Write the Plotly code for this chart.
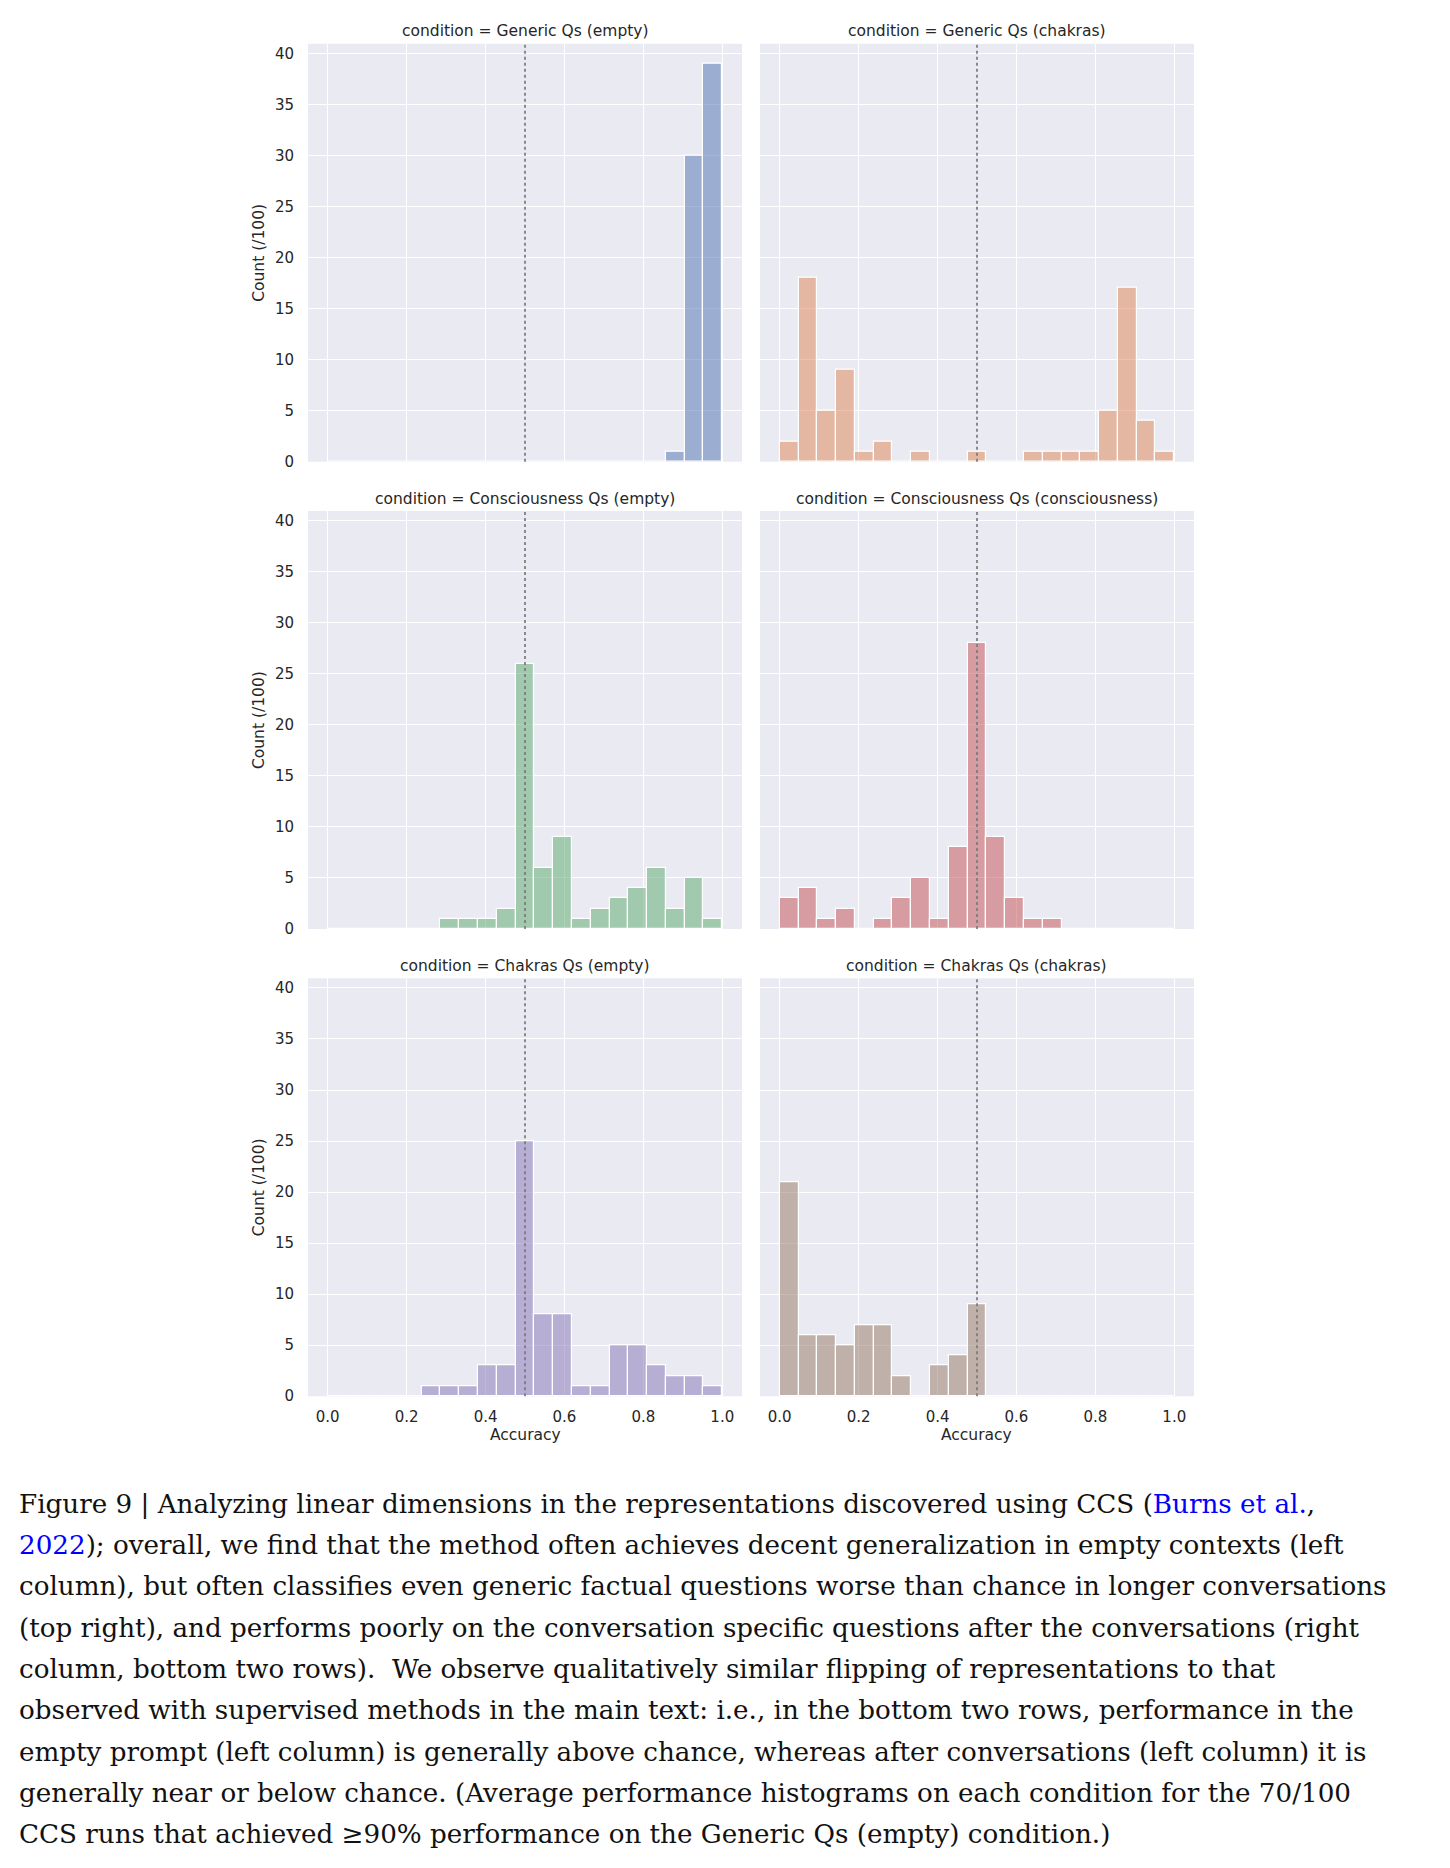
import numpy as np
import plotly.graph_objects as go

# ---------------- data ----------------
n_bins = 21
conditions = [
    "Generic Qs (empty)",
    "Generic Qs (chakras)",
    "Consciousness Qs (empty)",
    "Consciousness Qs (consciousness)",
    "Chakras Qs (empty)",
    "Chakras Qs (chakras)",
]
counts_generic_empty = [0, 0, 0, 0, 0, 0, 0, 0, 0, 0, 0, 0, 0, 0, 0, 0, 0, 0, 1, 30, 39]
counts_generic_chakras = [2, 18, 5, 9, 1, 2, 0, 1, 0, 0, 1, 0, 0, 1, 1, 1, 1, 5, 17, 4, 1]
counts_consc_empty = [0, 0, 0, 0, 0, 0, 1, 1, 1, 2, 26, 6, 9, 1, 2, 3, 4, 6, 2, 5, 1]
counts_consc_consc = [3, 4, 1, 2, 0, 1, 3, 5, 1, 8, 28, 9, 3, 1, 1, 0, 0, 0, 0, 0, 0]
counts_chakras_empty = [0, 0, 0, 0, 0, 1, 1, 1, 3, 3, 25, 8, 8, 1, 1, 5, 5, 3, 2, 2, 1]
counts_chakras_chakras = [21, 6, 6, 5, 7, 7, 2, 0, 3, 4, 9, 0, 0, 0, 0, 0, 0, 0, 0, 0, 0]
all_counts = [counts_generic_empty, counts_generic_chakras, counts_consc_empty,
              counts_consc_consc, counts_chakras_empty, counts_chakras_chakras]
colors = ["#4C72B0", "#DD8452", "#55A868", "#C44E52", "#8172B3", "#937860"]
x_ticks = [0.0, 0.2, 0.4, 0.6, 0.8, 1.0]
x_tick_labels = ["0.0", "0.2", "0.4", "0.6", "0.8", "1.0"]
y_ticks = [0, 5, 10, 15, 20, 25, 30, 35, 40]
chance = 0.5

caption_lines = [
    'Figure 9 | Analyzing linear dimensions in the representations discovered using CCS (<span style="color:#0000ff">Burns et al.</span>,',
    '<span style="color:#0000ff">2022</span>); overall, we find that the method often achieves decent generalization in empty contexts (left',
    'column), but often classifies even generic factual questions worse than chance in longer conversations',
    '(top right), and performs poorly on the conversation specific questions after the conversations (right',
    'column, bottom two rows).  We observe qualitatively similar flipping of representations to that',
    'observed with supervised methods in the main text: i.e., in the bottom two rows, performance in the',
    'empty prompt (left column) is generally above chance, whereas after conversations (left column) it is',
    'generally near or below chance. (Average performance histograms on each condition for the 70/100',
    'CCS runs that achieved ≥90% performance on the Generic Qs (empty) condition.)',
]

# ---------------- layout geometry (pixels) ----------------
W = 1450
H = 1868
col_px = [(308, 742), (760, 1194)]
row_px = [(44, 464), (513.5, 933.5), (983, 1403)]
BG = "#EAEAF2"
TXT = "#262626"
SANS = "DejaVu Sans"
LABEL_SIZE = 15.5
TICK_SIZE = 15


def rgba(hexc, a):
    h = hexc.lstrip("#")
    r, g, b = int(h[0:2], 16), int(h[2:4], 16), int(h[4:6], 16)
    return f"rgba({r},{g},{b},{a})"


edges = np.linspace(0, 1, n_bins + 1)
centers = (edges[:-1] + edges[1:]) / 2
bin_w = edges[1] - edges[0]
ymax = max(max(c) for c in all_counts) * 1.05

fig = go.Figure()
annotations = []
shapes = []
layout_axes = {}

for i, (cond, counts, color) in enumerate(zip(conditions, all_counts, colors)):
    r, c = divmod(i, 2)
    k = i + 1
    xn = "x" if k == 1 else f"x{k}"
    yn = "y" if k == 1 else f"y{k}"
    x0, x1 = col_px[c]
    y0, y1 = row_px[r]

    fig.add_trace(go.Bar(
        x=centers, y=counts, width=bin_w,
        marker=dict(color=rgba(color, 0.5), line=dict(color="white", width=1.2)),
        xaxis=xn, yaxis=yn, showlegend=False, hoverinfo="x+y",
    ))

    layout_axes["xaxis" if k == 1 else f"xaxis{k}"] = dict(
        domain=[x0 / W, x1 / W], anchor=yn, range=[-0.05, 1.05],
        tickvals=x_ticks, ticktext=x_tick_labels, showticklabels=(r == 2),
        showgrid=True, gridcolor="white", gridwidth=1.4, zeroline=False,
        showline=False, ticks="", ticklabelstandoff=10,
        tickfont=dict(family=SANS, size=TICK_SIZE, color=TXT),
    )
    layout_axes["yaxis" if k == 1 else f"yaxis{k}"] = dict(
        domain=[1 - y1 / H, 1 - y0 / H], anchor=xn, range=[0, ymax],
        tickvals=y_ticks, showticklabels=(c == 0),
        showgrid=True, gridcolor="white", gridwidth=1.4, zeroline=False,
        showline=False, ticks="", ticklabelstandoff=13,
        tickfont=dict(family=SANS, size=TICK_SIZE, color=TXT),
    )

    annotations.append(dict(
        text=f"condition = {cond}", xref="paper", yref="paper",
        x=(x0 + x1) / 2 / W, y=1 - (y0 - 12.5) / H, xanchor="center", yanchor="middle",
        showarrow=False, font=dict(family=SANS, size=LABEL_SIZE, color=TXT),
    ))
    if c == 0:
        annotations.append(dict(
            text="Count (/100)", xref="paper", yref="paper",
            x=259 / W, y=1 - (y0 + y1) / 2 / H, xanchor="center", yanchor="middle",
            textangle=-90, showarrow=False, font=dict(family=SANS, size=LABEL_SIZE, color=TXT),
        ))
    if r == 2:
        annotations.append(dict(
            text="Accuracy", xref="paper", yref="paper",
            x=(x0 + x1) / 2 / W, y=1 - 1442 / H, xanchor="center", yanchor="middle",
            showarrow=False, font=dict(family=SANS, size=LABEL_SIZE, color=TXT),
        ))

    shapes.append(dict(
        type="line", xref=xn, yref=f"{yn} domain", x0=chance, x1=chance, y0=0, y1=1,
        line=dict(color="#7a7a7a", width=1.7, dash="dot"), layer="above",
    ))

# caption
line_y0 = 1511
line_dy = 41.5
for j, line in enumerate(caption_lines):
    annotations.append(dict(
        text=line, xref="paper", yref="paper", x=17 / W, y=1 - (line_y0 + j * line_dy) / H,
        xanchor="left", yanchor="middle", align="left", showarrow=False,
        font=dict(family="DejaVu Serif", size=26.2, color="#111111"),
    ))

fig.update_layout(
    width=W, height=H, margin=dict(l=0, r=0, t=0, b=0),
    plot_bgcolor=BG, paper_bgcolor="white",
    barmode="overlay", bargap=0,
    annotations=annotations, shapes=shapes,
    **layout_axes,
)

fig.write_html("out.html")
